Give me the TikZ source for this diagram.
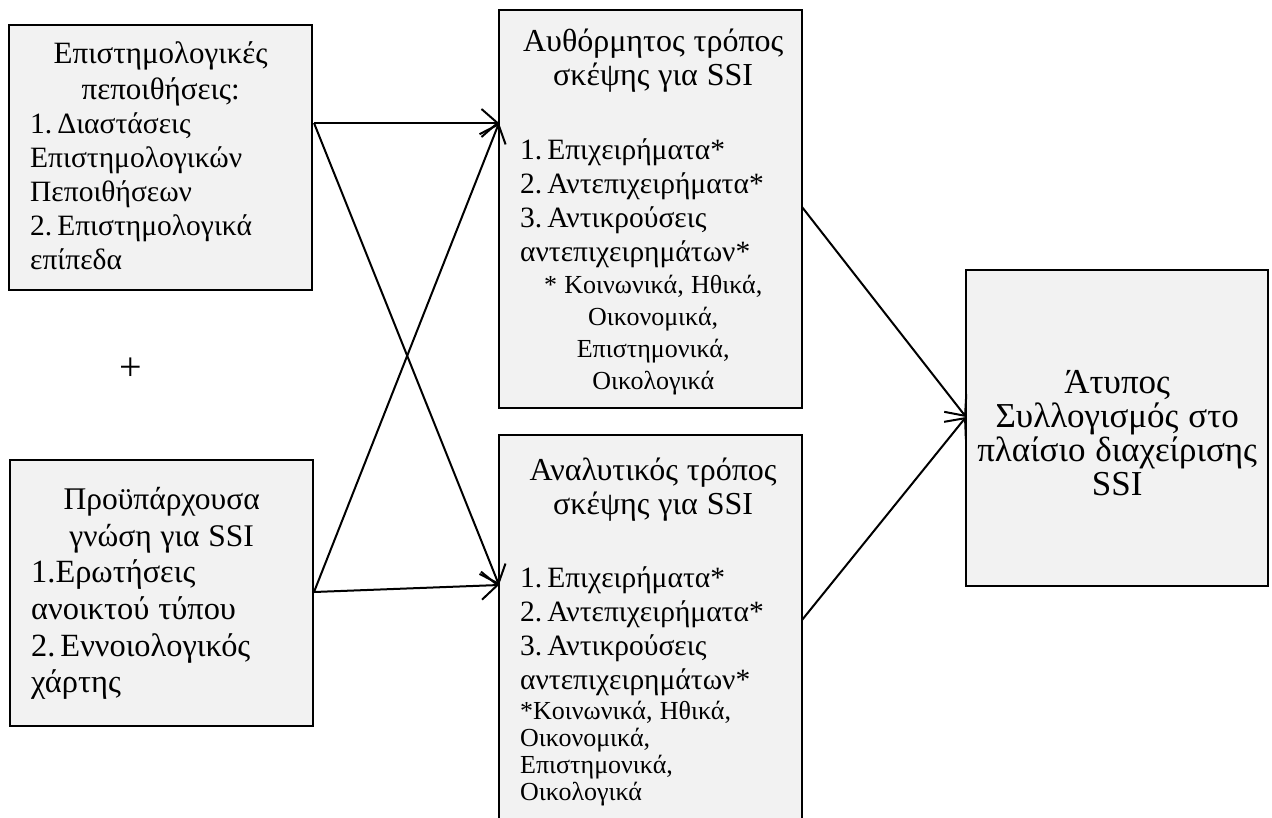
\documentclass[tikz,border=0pt]{standalone}
\usepackage{fontspec}
\setmainfont{Liberation Serif}
\usetikzlibrary{arrows.meta,calc}
\setlength{\parindent}{0pt}
\definecolor{boxfill}{HTML}{F2F2F2}
% font size with line distance and a fixed word space
\newcommand{\fs}[2]{\fontsize{#1}{#2}\selectfont\spaceskip=0.28em plus 0.1em\relax}
% invisible rule fixing the first baseline 40pt below the top of a text block
\newcommand{\topline}{\rule{0pt}{40pt}}
\begin{document}
\begin{tikzpicture}[x=1pt,y=-1pt,
  box/.style={draw=black, line width=2.2pt, fill=boxfill, rectangle,
    inner sep=0pt, outer sep=0pt, anchor=north west},
  boxtext/.style={inner sep=0pt, anchor=north west, align=left},
  conn/.style={line width=2pt,
    -{Straight Barb[length=16pt,width=28pt,line width=2pt]}}]
\useasboundingbox (0,0) rectangle (1272,817);

% boxes
\node[box, minimum width=303pt, minimum height=265pt] (b1) at (9,25) {};
\node[box, minimum width=303pt, minimum height=266pt] (b2) at (10,460) {};
\node[box, minimum width=303pt, minimum height=398pt] (b3) at (499,10) {};
\node[box, minimum width=303pt, minimum height=400pt] (b4) at (499,435) {};
\node[box, minimum width=302pt, minimum height=316pt] (b5) at (966,270) {};

% box texts
\node[boxtext, text width=261pt] (t1) at (30,23) {%
  {\fs{31}{36}\centering\topline Επιστημολογικές\\ πεποιθήσεις:\par}
  {\fs{29.5}{34}\raggedright 1. Διαστάσεις\\ Επιστημολογικών\\ Πεποιθήσεων\\
  2. Επιστημολογικά\\ επίπεδα\par}};

\node[boxtext, text width=261pt] (t2) at (31,469.5) {%
  {\fs{31.5}{36.6}\centering\topline Προϋπάρχουσα\\ γνώση για SSI\par}
  {\fs{32.4}{36.6}\raggedright 1.Ερωτήσεις\\ ανοικτού τύπου\\
  2. Εννοιολογικός\\ χάρτης\par}};

\node[boxtext, text width=266pt] (t3) at (520,11.5) {%
  {\fs{32}{34}\centering\topline Αυθόρμητος τρόπος\\ σκέψης για SSI\par}
  \vspace{39.5pt}
  {\fs{29.5}{34}\raggedright 1. Επιχειρήματα*\\
  2. Αντεπιχειρήματα*\\ 3. Αντικρούσεις\\ αντεπιχειρημάτων*\par}
  {\fs{26}{32}\centering * Κοινωνικά, Ηθικά,\\ Οικονομικά,\\
  Επιστημονικά,\\ Οικολογικά\par}};

\node[boxtext, text width=266pt] (t4) at (520,440.5) {%
  {\fs{32}{34}\centering\topline Αναλυτικός τρόπος\\ σκέψης για SSI\par}
  \vspace{38.5pt}
  {\fs{29.5}{34}\raggedright 1. Επιχειρήματα*\\
  2. Αντεπιχειρήματα*\\ 3. Αντικρούσεις\\ αντεπιχειρημάτων*\par}
  \vspace{3pt}
  {\fs{26}{27}\raggedright *Κοινωνικά, Ηθικά,\\ Οικονομικά,\\
  Επιστημονικά,\\ Οικολογικά\par}};

\node[boxtext, text width=292pt] (t5) at (971,353) {\fs{35}{34}%
  \centering\topline Άτυπος\\ Συλλογισμός στο\\ πλαίσιο διαχείρισης\\ SSI\par};

% the plus sign between the two input boxes
\node[inner sep=0pt, font=\fs{40}{40}] (plus) at (131,369) {+};

% connector ends on the box borders
\coordinate (b1out) at ($(b1.north east)+(2,98)$);
\coordinate (b2out) at ($(b2.north east)+(1,132)$);
\coordinate (b3in1) at ($(b3.north west)+(0,113)$);
\coordinate (b4in1) at ($(b4.north west)+(0,150)$);
\coordinate (b3out) at ($(b3.north east)+(0,197)$);
\coordinate (b4out) at ($(b4.north east)+(0,185)$);
\coordinate (b5in)  at ($(b5.north west)+(0,147)$);

% connectors
\draw[conn] (b1out) -- (b3in1);
\draw[conn] (b1out) -- (b4in1);
\draw[conn] (b2out) -- (b3in1);
\draw[conn] (b2out) -- (b4in1);
\draw[conn] (b3out) -- (b5in);
\draw[conn] (b4out) -- (b5in);
\end{tikzpicture}
\end{document}
